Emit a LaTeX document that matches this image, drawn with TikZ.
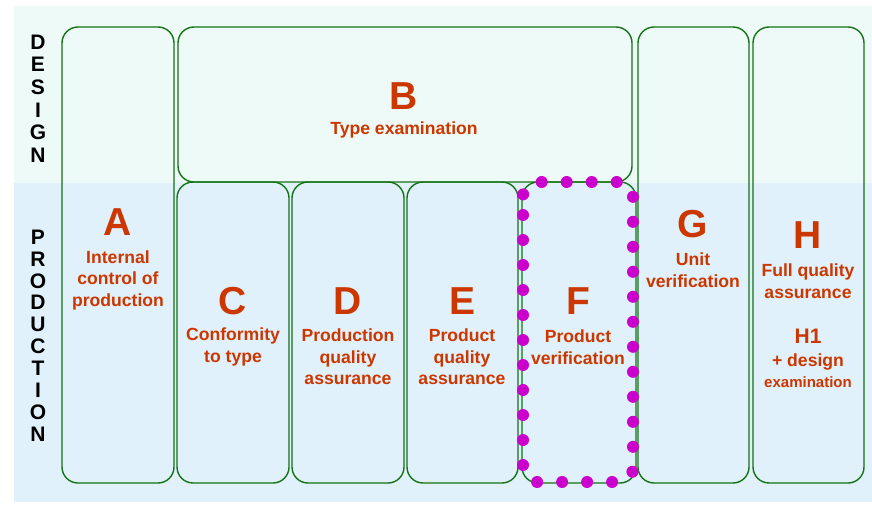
\documentclass[tikz,border=0pt]{standalone}
\usepackage{fontspec}
\setmainfont{Liberation Sans}

\begin{document}
\begin{tikzpicture}[x=1pt,y=-1pt]
\definecolor{modgreen}{RGB}{20,115,20}
\definecolor{modred}{RGB}{204,55,0}
\definecolor{designbg}{RGB}{238,250,247}
\definecolor{prodbg}{RGB}{224,241,251}
\definecolor{verifymagenta}{RGB}{204,0,204}
\tikzset{
  module/.style={draw=modgreen,line width=1.4pt,rounded corners=16pt},
  bigletter/.style={text=modred,font=\bfseries\fontsize{39}{39}\selectfont,inner sep=0pt},
  modtext/.style={text=modred,font=\bfseries\fontsize{17.6}{21.5}\selectfont,align=center,inner sep=0pt},
  phase/.style={font=\bfseries\fontsize{21}{22}\selectfont,inner sep=0pt}
}
\useasboundingbox (0,0) rectangle (872,505);
\fill[designbg] (14,6) rectangle (872,183);
\fill[prodbg] (14,183) rectangle (872,502);

\draw[module] (62,27) rectangle (174,483);
\draw[module] (178,27) rectangle (632,182);
\draw[module] (177,182) rectangle (289,483);
\draw[module] (292,182) rectangle (404,483);
\draw[module] (407,182) rectangle (518,483);
\draw[module] (522,182) rectangle (636,483);
\draw[module] (638,27) rectangle (749,483);
\draw[module] (753,27) rectangle (864,483);

\draw[verifymagenta,line width=12pt,line cap=round,dash pattern=on 0pt off 25pt,
  dash phase=6pt,rounded corners=14pt] (523,182) rectangle (633,482);

\foreach \c [count=\i] in {D,E,S,I,G,N}
  \node[phase] (design\i) at (38,{42+22.6*(\i-1)}) {\c};
\foreach \c [count=\i] in {P,R,O,D,U,C,T,I,O,N}
  \node[phase] (production\i) at (38,{237+21.9*(\i-1)}) {\c};

\foreach \L/\x/\y in {A/118/222,B/404/96,C/233/301,D/348/301,E/462/301,F/578/301,G/693/224,H/808/235}
  \node[bigletter] (\L) at (\x,\y) {\L};

\node[modtext] (textA) at (118,280) {Internal\\control of\\production};
\node[modtext] (textB) at (404,130) {Type examination};
\node[modtext] (textC) at (233,347) {Conformity\\to type};
\node[modtext] (textD) at (348,357) {Production\\quality\\assurance};
\node[modtext] (textE) at (462,357) {Product\\quality\\assurance};
\node[modtext] (textF) at (578,347) {Product\\verification};
\node[modtext] (textG) at (693,270) {Unit\\verification};
\node[modtext] (textH) at (808,281) {Full quality\\assurance};
\node[modtext,font=\bfseries\fontsize{21}{22}\selectfont] (H1) at (808,336) {H1};
\node[modtext] (textH1) at (808,362) {+ design};
\node[modtext,font=\bfseries\fontsize{15}{17}\selectfont] (examH1) at (808,382) {examination};
\end{tikzpicture}
\end{document}
